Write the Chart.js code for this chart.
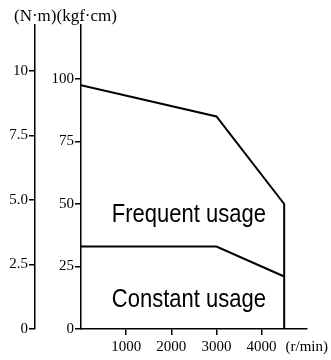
<!DOCTYPE html>
<html>
<head>
<meta charset="utf-8">
<script src="https://cdn.jsdelivr.net/npm/chart.js@4"></script>
<style>
  html, body { margin: 0; padding: 0; background: #fff; }
  #wrap { width: 331px; height: 360px; position: relative; }
</style>
</head>
<body>
<div id="wrap"><canvas id="c" width="331" height="360"></canvas></div>
<script>
// ---- data ----
const frequentRpm = [0, 3000, 4500, 4500];
const frequentTorque = [97.5, 85, 50, 0];          // kgf·cm
const constantRpm = [0, 3000, 4500];
const constantTorque = [33, 33, 21];               // kgf·cm
const rpmTicks = [1000, 2000, 3000, 4000, 5000];
const rpmTickLabels = ['1000', '2000', '3000', '4000', '(r/min)'];
const kgfTicks = [0, 25, 50, 75, 100];
const kgfTickLabels = ['0', '25', '50', '75', '100'];
const nmTicks = [0, 2.5, 5, 7.5, 10];
const nmTickLabels = ['0', '2.5', '5.0', '7.5', '10'];
const areaLabels = ['Frequent usage', 'Constant usage'];
const unitTitle = '(N·m)(kgf·cm)';

const serif = '"Liberation Serif", "Times New Roman", serif';
const sans = '"Liberation Sans", Arial, sans-serif';

function pts(xs, ys) { return xs.map((x, i) => ({ x: x, y: ys[i] })); }

const textPlugin = {
  id: 'texts',
  afterDraw(chart) {
    const ctx = chart.ctx;
    const xs = chart.scales.x, ys = chart.scales.y;
    ctx.save();
    ctx.fillStyle = '#000';
    // unit title
    ctx.font = '17px ' + serif;
    ctx.textAlign = 'left';
    ctx.textBaseline = 'middle';
    ctx.fillText(unitTitle, 14, 17);
    // area labels
    ctx.font = '22px ' + sans;
    ctx.textAlign = 'center';
    ctx.textBaseline = 'alphabetic';
    const pos = [[2390, 42.9], [2390, 8.9]];
    areaLabels.forEach((t, i) => {
      const px = xs.getPixelForValue(pos[i][0]);
      const py = ys.getPixelForValue(pos[i][1]);
      ctx.save();
      ctx.translate(px, py);
      ctx.scale(1, 1.2);
      ctx.fillText(t, 0, 0);
      ctx.restore();
    });
    ctx.restore();
  }
};

new Chart(document.getElementById('c'), {
  type: 'scatter',
  data: {
    datasets: [
      { data: pts(frequentRpm, frequentTorque), showLine: true, borderColor: '#000', borderWidth: 2, pointRadius: 0, tension: 0, yAxisID: 'y' },
      { data: pts(constantRpm, constantTorque), showLine: true, borderColor: '#000', borderWidth: 2, pointRadius: 0, tension: 0, yAxisID: 'y' }
    ]
  },
  options: {
    responsive: false,
    animation: false,
    events: [],
    layout: { padding: { top: 25, left: 0, right: 0, bottom: 0 } },
    plugins: { legend: { display: false }, tooltip: { enabled: false }, title: { display: false } },
    scales: {
      x: {
        type: 'linear', position: 'bottom', min: 0, max: 5000,
        afterBuildTicks(s) { s.ticks = rpmTicks.map(v => ({ value: v })); },
        afterFit(s) { s.height = 31; },
        ticks: {
          color: '#000', font: { family: serif, size: 15 }, padding: 3, maxRotation: 0, autoSkip: false,
          callback(v) { const i = rpmTicks.indexOf(v); return i >= 0 ? rpmTickLabels[i] : ''; }
        },
        grid: { drawOnChartArea: false, drawTicks: true, tickLength: 6, lineWidth: 1.5,
                color: c => (c.tick && c.tick.value === 5000) ? 'rgba(0,0,0,0)' : '#000' },
        border: { display: true, color: '#000', width: 1.5 }
      },
      y: {
        type: 'linear', position: 'left', weight: 0, min: 0, max: 121.6,
        afterBuildTicks(s) { s.ticks = kgfTicks.map(v => ({ value: v })); },
        afterFit(s) { s.width = 46; },
        ticks: {
          color: '#000', font: { family: serif, size: 15 }, padding: 1, autoSkip: false,
          callback(v) { const i = kgfTicks.indexOf(v); return i >= 0 ? kgfTickLabels[i] : ''; }
        },
        grid: { drawOnChartArea: false, drawTicks: true, tickLength: 6, color: '#000', lineWidth: 1.5 },
        border: { display: true, color: '#000', width: 1.5 }
      },
      y2: {
        type: 'linear', position: 'left', weight: 1, min: 0, max: 11.78,
        afterBuildTicks(s) { s.ticks = nmTicks.map(v => ({ value: v })); },
        afterFit(s) { s.width = 35; },
        ticks: {
          color: '#000', font: { family: serif, size: 15 }, padding: 1, autoSkip: false,
          callback(v) { const i = nmTicks.indexOf(v); return i >= 0 ? nmTickLabels[i] : ''; }
        },
        grid: { drawOnChartArea: false, drawTicks: true, tickLength: 6, color: '#000', lineWidth: 1.5 },
        border: { display: true, color: '#000', width: 1.5 }
      }
    }
  },
  plugins: [textPlugin]
});
</script>
</body>
</html>
